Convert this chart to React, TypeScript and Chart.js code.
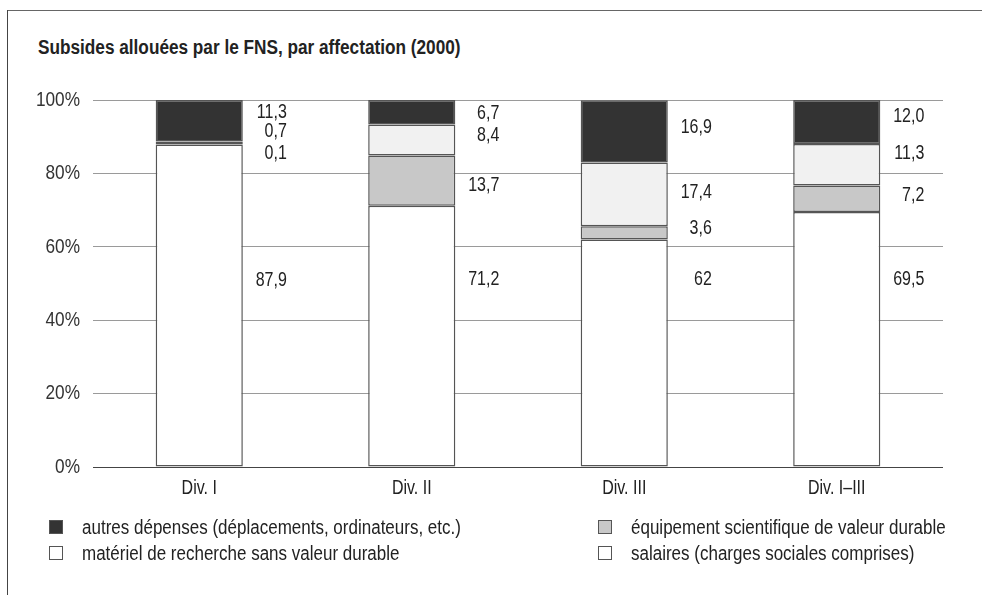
import React, { useEffect, useRef } from "react";
import { Chart, registerables } from "chart.js";

Chart.register(...registerables);

// ---- data (as printed in the reference) ----
const categories = ["Div. I", "Div. II", "Div. III", "Div. I–III"];
const salaires = ["87,9", "71,2", "62", "69,5"];
const equipement = ["0,1", "13,7", "3,6", "7,2"];
const materiel = ["0,7", "8,4", "17,4", "11,3"];
const autres = ["11,3", "6,7", "16,9", "12,0"];
const yTickValues = [0, 20, 40, 60, 80, 100];

const seriesNames = [
  "salaires (charges sociales comprises)",
  "équipement scientifique de valeur durable",
  "matériel de recherche sans valeur durable",
  "autres dépenses (déplacements, ordinateurs, etc.)",
];

// ---- label layout (value-axis level where each printed number sits) ----
const labelLevelSalaires = [50.7, 51.0, 51.2, 51.0];
const labelLevelEquipement = [85.3, 76.8, 65.1, 74.1];
const labelLevelMateriel = [91.3, 90.2, 74.7, 85.3];
const labelLevelAutres = [96.5, 96.2, 92.6, 95.6];

const FONT = "'Liberation Sans', Arial, sans-serif";
const NARROW = 0.8;
const num = (s: string) => parseFloat(s.replace(",", "."));

const fills = ["#ffffff", "#c8c8c8", "#f1f1f1", "#333333"];

function narrowText(ctx: CanvasRenderingContext2D, txt: string, x: number, y: number, sx: number) {
  ctx.save();
  ctx.translate(x, y);
  ctx.scale(sx, 1);
  ctx.fillText(txt, 0, 0);
  ctx.restore();
}

export default function App() {
  const ref = useRef<HTMLCanvasElement | null>(null);

  useEffect(() => {
    document.body.style.margin = "0";
    const canvas = ref.current;
    if (!canvas) return;
    const printed = [salaires, equipement, materiel, autres];
    const levels = [labelLevelSalaires, labelLevelEquipement, labelLevelMateriel, labelLevelAutres];

    const textPlugin = {
      id: "narrowTexts",
      afterDatasetsDraw(chart: any) {
        const ctx = chart.ctx as CanvasRenderingContext2D;
        const yScale = chart.scales.y;
        const xScale = chart.scales.x;
        const area = chart.chartArea;
        ctx.save();
        // value labels
        ctx.font = `20px ${FONT}`;
        ctx.fillStyle = "#222";
        ctx.textAlign = "right";
        ctx.textBaseline = "middle";
        printed.forEach((arr, d) => {
          const meta = chart.getDatasetMeta(d);
          arr.forEach((txt, j) => {
            const el: any = meta.data[j];
            narrowText(ctx, txt, el.x + el.width / 2 + 44, yScale.getPixelForValue(levels[d][j]), NARROW);
          });
        });
        // y tick labels
        ctx.font = `21px ${FONT}`;
        ctx.fillStyle = "#333";
        yTickValues.forEach((v) => {
          narrowText(ctx, `${v}%`, area.left - 13, yScale.getPixelForValue(v), 0.82);
        });
        // x tick labels
        ctx.font = `20px ${FONT}`;
        ctx.fillStyle = "#222";
        ctx.textAlign = "center";
        categories.forEach((c, i) => {
          narrowText(ctx, c, xScale.getPixelForValue(i), area.bottom + 21, NARROW);
        });
        ctx.restore();
      },
    };

    const chart = new Chart(canvas, {
      type: "bar",
      data: {
        labels: categories,
        datasets: printed.map((arr, i) => ({
          label: seriesNames[i],
          data: arr.map(num),
          backgroundColor: fills[i],
          borderColor: "#555",
          borderWidth: 1.5,
          borderSkipped: false,
          categoryPercentage: 1,
          barPercentage: 0.41,
        })),
      },
      options: {
        responsive: false,
        animation: false,
        devicePixelRatio: 1,
        layout: { padding: { left: 0, right: 39, top: 100, bottom: 88 } },
        plugins: { legend: { display: false }, tooltip: { enabled: false }, title: { display: false } },
        scales: {
          x: {
            stacked: true,
            grid: { display: false, drawTicks: false },
            border: { display: false },
            ticks: { display: false },
            afterFit: (s: any) => { s.height = 40; },
          },
          y: {
            stacked: true,
            min: 0,
            max: 100,
            afterBuildTicks: (s: any) => { s.ticks = yTickValues.map((v) => ({ value: v })); },
            grid: {
              drawTicks: false,
              color: (c: any) => (c.tick && c.tick.value === 0 ? "#444" : "#9a9a9a"),
              lineWidth: 1,
            },
            border: { display: false },
            ticks: { display: false },
            afterFit: (s: any) => { s.width = 93; },
          },
        },
      },
      plugins: [textPlugin],
    });
    return () => chart.destroy();
  }, []);

  const legendItems = [
    { name: seriesNames[3], fill: fills[3], x: 49, y: 527 },
    { name: seriesNames[2], fill: "#ffffff", x: 49, y: 553 },
    { name: seriesNames[1], fill: fills[1], x: 598, y: 527 },
    { name: seriesNames[0], fill: "#ffffff", x: 598, y: 553 },
  ];

  return (
    <div style={{ position: "relative", width: 982, height: 595, background: "#fff", overflow: "hidden" }}>
      <div style={{ position: "absolute", left: 7, top: 10, width: 975, height: 0, borderTop: "1.5px solid #666" }} />
      <div style={{ position: "absolute", left: 7, top: 10, width: 0, height: 585, borderLeft: "1.5px solid #444" }} />
      <div
        style={{
          position: "absolute",
          left: 38,
          top: 35,
          fontFamily: FONT,
          fontWeight: "bold",
          fontSize: 20,
          lineHeight: "24px",
          color: "#222",
          whiteSpace: "nowrap",
          transform: "scaleX(0.86)",
          transformOrigin: "left center",
        }}
      >
        Subsides allouées par le FNS, par affectation (2000)
      </div>
      <canvas ref={ref} width={982} height={595} style={{ position: "absolute", left: 0, top: 0 }} />
      {legendItems.map((it, i) => (
        <div key={i} style={{ position: "absolute", left: it.x, top: it.y - 12, height: 24, display: "flex", alignItems: "center", whiteSpace: "nowrap" }}>
          <span
            style={{
              display: "inline-block",
              width: 12,
              height: 12,
              background: it.fill,
              border: "1.5px solid #555",
              marginRight: 19,
              flex: "none",
            }}
          />
          <span
            style={{
              display: "inline-block",
              fontFamily: FONT,
              fontSize: 20,
              lineHeight: "24px",
              color: "#222",
              transform: "scaleX(0.85)",
              transformOrigin: "left center",
            }}
          >
            {it.name}
          </span>
        </div>
      ))}
    </div>
  );
}
